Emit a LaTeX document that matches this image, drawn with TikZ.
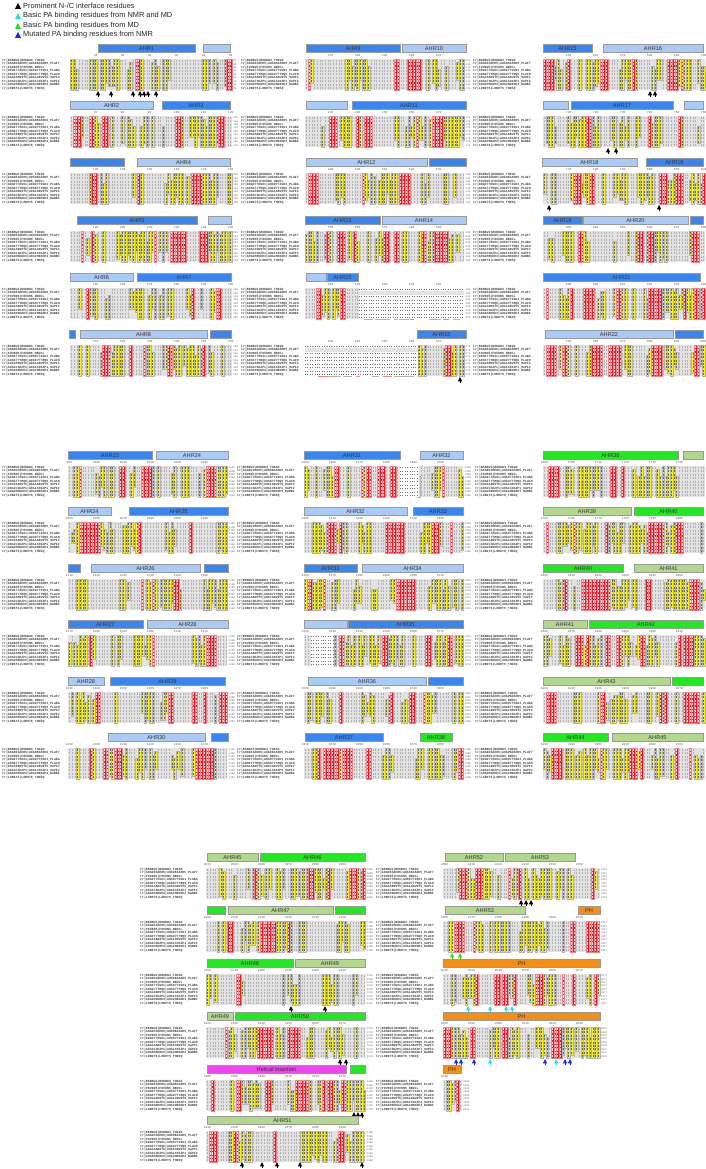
\documentclass[tikz,border=0pt]{standalone}
\usepackage{fontspec}
\setmainfont{Liberation Sans}
\newfontfamily\seqfont{Liberation Mono}
\definecolor{dkblue}{RGB}{58,134,240}
\definecolor{ltblue}{RGB}{170,202,248}
\definecolor{grn}{RGB}{34,232,34}
\definecolor{ltgrn}{RGB}{178,216,142}
\definecolor{orng}{RGB}{246,142,20}
\definecolor{mgnt}{RGB}{236,70,236}
\definecolor{resred}{RGB}{228,30,40}
\definecolor{resyel}{RGB}{250,244,10}
\definecolor{resbg}{RGB}{226,226,226}
\definecolor{trcyan}{RGB}{40,222,244}
\definecolor{trgreen}{RGB}{40,222,40}
\definecolor{trblue}{RGB}{28,40,240}
\newcommand\alncw{2.7}
\newcommand\alnrh{3.45}
\tikzset{
  barbox/.style={draw=black!40,line width=0.4pt},
  barlabel/.style={font=\fontsize{5.6}{6}\selectfont,text=black!80,inner sep=0pt},
  seqname/.style={font=\seqfont\bfseries\fontsize{3.2}{3.4}\selectfont,text=black!75,anchor=west,inner sep=0pt},
  rulenum/.style={font=\seqfont\fontsize{3}{3.2}\selectfont,text=black!65,inner sep=0pt},
  endnum/.style={font=\seqfont\fontsize{2.6}{2.8}\selectfont,text=black!60,anchor=west,inner sep=0pt},
  legtext/.style={font=\fontsize{7.4}{8.8}\selectfont,anchor=west,inner sep=0pt,text=black!85},
}
% helix bar: x1, x2, top, colour, label
\newcommand\helixbar[5]{%
  \draw[barbox,fill=#4] ({#1},{#3}) rectangle ({#2},{#3+8});
  \node[barlabel] at ({(#1+#2)/2},{#3+4.2}) {#5};}
% residue marker: x, top, colour
\newcommand\restri[3]{%
  \fill[#3] ({#1-2.2},{#2+4.4}) -- ({#1+2.2},{#2+4.4}) -- ({#1},{#2}) -- cycle;
  \fill[#3] ({#1-0.5},{#2+4}) rectangle ({#1+0.5},{#2+6.2});}
\newcommand\legtri[2]{%
  \fill[#2] (15,{#1+3}) -- (21,{#1+3}) -- (18,{#1-3.2}) -- cycle;}
% alignment block: x, top, ncols, seed
\newcommand\alnblock[4]{%
  \pgfmathsetseed{#4}%
  \fill[resbg] ({#1},{#2}) rectangle ({#1+#3*\alncw},{#2+9*\alnrh});
  \gdef\alnstate{0}%
  \foreach \i in {1,...,#3}{%
    \pgfmathtruncatemacro\alns{(rnd<0.45) ? \alnstate : ((rnd<0.15) ? 2 : ((rnd<0.5) ? 1 : 0))}%
    \global\let\alnstate\alns
    \pgfmathsetmacro\cx{#1+(\i-1)*\alncw}%
    \ifnum\alns=2
      \fill[resred,draw=resred!55!white,line width=0.25pt] (\cx,{#2}) rectangle ({\cx+\alncw},{#2+9*\alnrh});
      \draw[white!85!red,line width=0.8pt,dash pattern=on 2.1pt off 1.35pt,dash phase=-0.7pt] ({\cx+\alncw/2},{#2}) -- ({\cx+\alncw/2},{#2+9*\alnrh});
    \fi
    \ifnum\alns=1
      \pgfmathtruncatemacro\ya{(rnd<0.7) ? 0 : 1+int(rnd*3)}%
      \pgfmathtruncatemacro\yb{(rnd<0.7) ? 0 : 1+int(rnd*3)}%
      \fill[resyel,draw=black!30,line width=0.2pt] (\cx,{#2+\ya*\alnrh}) rectangle ({\cx+\alncw},{#2+(9-\yb)*\alnrh});
      \draw[black!60,line width=0.55pt,dash pattern=on 2.0pt off 1.45pt,dash phase=-0.7pt] ({\cx+\alncw/2},{#2+\ya*\alnrh}) -- ({\cx+\alncw/2},{#2+(9-\yb)*\alnrh});
    \fi
    \ifnum\alns=0
      \draw[black!30,line width=0.5pt,dash pattern=on 2.0pt off 1.45pt,dash phase=-0.7pt] ({\cx+\alncw/2},{#2}) -- ({\cx+\alncw/2},{#2+9*\alnrh});
    \fi
  }%
}
% ruler: blockx, top, ncols, start
\newcommand\ruler[4]{%
  \pgfmathtruncatemacro\rfirst{ceil(#4/10)*10}%
  \foreach \k in {0,...,6}{%
    \pgfmathtruncatemacro\rn{\rfirst+10*\k}%
    \pgfmathtruncatemacro\rc{\rn-#4}%
    \ifnum\rc<#3 \node[rulenum] at ({#1+(\rc+0.5)*\alncw},{#2+11.6}) {\rn};\fi
  }}
\newcommand\seqnames[2]{%
  \foreach \nm [count=\k from 0] in {tr|B6KBW3|B6KBW3\_TOXGO,tr|A0A0K3AEH5|A0A0K3AEH5\_PLAF7,tr|F0V8N5|F0V8N5\_NEOCL,tr|A0A077XG61|A0A077XG61\_PLABA,tr|A0A077TRQ6|A0A077TRQ6\_PLACH,tr|A0A1A8W9Y5|A0A1A8W9Y5\_9APIC,tr|A0A1C3KZP1|A0A1C3KZP1\_9APIC,tr|A0A2H6KDE3|A0A2H6KDE3\_BABBI,tr|L0B0T6|L0B0T6\_THEEQ}{%
    \node[seqname] at ({#1},{#2+15+(\k+0.5)*\alnrh}) {\nm};}}
\newcommand\seqends[3]{%
  \foreach \k in {0,...,8}{\node[endnum] at ({#1},{#2+15+(\k+0.5)*\alnrh}) {#3};}}
% panel with end numbers: namesx, blockx, top, ncols, start, seed
\newcommand\panel[6]{%
  \seqnames{#1}{#3}
  \alnblock{#2}{#3+15}{#4}{#6}
  \ruler{#2}{#3}{#4}{#5}
  \pgfmathtruncatemacro\endn{#5+#4-1}%
  \seqends{#2+#4*\alncw+1.2}{#3}{\endn}}
% panel at the right edge (no end numbers)
\newcommand\panelr[6]{%
  \seqnames{#1}{#3}
  \alnblock{#2}{#3+15}{#4}{#6}
  \ruler{#2}{#3}{#4}{#5}}
% gap region: x1, x2, top, insert row (9 = none)
\newcommand\gapregion[4]{%
  \fill[white] ({#1},{#3+15}) rectangle ({#2},{#3+15+9*\alnrh});
  \foreach \k in {0,...,8}{\draw[black!55,line width=0.5pt,dash pattern=on 0.5pt off 1.9pt] ({#1},{#3+15+(\k+0.5)*\alnrh}) -- ({#2},{#3+15+(\k+0.5)*\alnrh});}
  \ifnum#4<9 \fill[resbg] ({#1},{#3+15+#4*\alnrh}) rectangle ({#2},{#3+15+(#4+1)*\alnrh});\fi}
\begin{document}
\begin{tikzpicture}[x=1pt,y=-1pt]
\fill[white] (0,0) rectangle (706,1169);
\useasboundingbox (0,0) rectangle (706,1169);
% legend
\legtri{6}{black}\node[legtext] at (23,6) {Prominent N-/C interface residues};
\legtri{16}{trcyan}\node[legtext] at (23,16) {Basic PA binding residues from NMR and MD};
\legtri{26}{trgreen}\node[legtext] at (23,26) {Basic PA binding residues from MD};
\legtri{35}{trblue}\node[legtext] at (23,35) {Mutated PA binding residues from NMR};
% ===== section 1 =====
% column 1
\panel{2}{70}{44}{60}{1}{11}
\helixbar{98}{195}{44}{dkblue}{AHR1}\helixbar{203}{230}{44}{ltblue}{}
\foreach \xx in {98,111,133,140,144,148,156}{\restri{\xx}{91}{black}}
\panel{2}{70}{101}{60}{61}{12}
\helixbar{70}{153}{101}{ltblue}{AHR2}\helixbar{162}{230}{101}{dkblue}{AHR3}
\panel{2}{70}{158}{60}{121}{13}
\helixbar{70}{124}{158}{dkblue}{}\helixbar{137}{230}{158}{ltblue}{AHR4}
\panel{2}{70}{216}{60}{181}{14}
\helixbar{77}{197}{216}{dkblue}{AHR5}\helixbar{208}{231}{216}{ltblue}{}
\panel{2}{70}{273}{60}{241}{15}
\helixbar{70}{133}{273}{ltblue}{AHR6}\helixbar{137}{231}{273}{dkblue}{AHR7}
\panel{2}{70}{330}{60}{301}{16}
\helixbar{69}{75}{330}{dkblue}{}\helixbar{80}{207}{330}{ltblue}{AHR8}\helixbar{210}{231}{330}{dkblue}{}
% column 2
\panel{241}{305}{44}{59}{361}{21}
\helixbar{306}{400}{44}{dkblue}{AHR9}\helixbar{402}{466}{44}{ltblue}{AHR10}
\panel{241}{305}{101}{59}{421}{22}
\helixbar{306}{347}{101}{ltblue}{}\helixbar{352}{466}{101}{dkblue}{AHR11}
\panel{241}{305}{158}{59}{481}{23}
\helixbar{306}{427}{158}{ltblue}{AHR12}\helixbar{429}{466}{158}{dkblue}{}
\panel{241}{305}{216}{59}{541}{24}
\helixbar{305}{380}{216}{dkblue}{AHR13}\helixbar{382}{466}{216}{ltblue}{AHR14}
\panel{241}{305}{273}{59}{601}{25}
\gapregion{359}{464.3}{273}{1}
\helixbar{306}{326}{273}{ltblue}{}\helixbar{327}{358}{273}{dkblue}{AHR15}
\panel{241}{305}{330}{59}{621}{26}
\gapregion{305}{418}{330}{1}
\helixbar{417}{466}{330}{dkblue}{AHR15}
\restri{460}{377}{black}
% column 3
\panelr{473}{543}{44}{60}{641}{31}
\helixbar{543}{592}{44}{dkblue}{AHR15}\helixbar{603}{703}{44}{ltblue}{AHR16}
\restri{650}{91}{black}\restri{655}{91}{black}
\panelr{473}{543}{101}{60}{701}{32}
\helixbar{543}{568}{101}{ltblue}{}\helixbar{571}{673}{101}{dkblue}{AHR17}\helixbar{684}{703}{101}{ltblue}{}
\restri{608}{148}{black}\restri{616}{148}{black}
\panelr{473}{543}{158}{60}{761}{33}
\helixbar{542}{637}{158}{ltblue}{AHR18}\helixbar{646}{703}{158}{dkblue}{AHR19}
\restri{549}{205}{black}\restri{659}{205}{black}
\panelr{473}{543}{216}{60}{821}{34}
\helixbar{543}{582}{216}{dkblue}{AHR19}\helixbar{583}{688}{216}{ltblue}{AHR20}\helixbar{690}{703}{216}{dkblue}{}
\panelr{473}{543}{273}{60}{881}{35}
\helixbar{543}{700}{273}{dkblue}{AHR21}
\panelr{473}{543}{330}{60}{941}{36}
\helixbar{545}{673}{330}{ltblue}{AHR22}\helixbar{675}{703}{330}{dkblue}{}
% ===== section 2 =====
\panel{2}{68}{451}{59}{990}{41}
\helixbar{68}{152}{451}{dkblue}{AHR23}\helixbar{156}{228}{451}{ltblue}{AHR24}
\panel{2}{68}{507}{59}{1050}{42}
\helixbar{68}{111}{507}{ltblue}{AHR24}\helixbar{129}{228}{507}{dkblue}{AHR25}
\panel{2}{68}{564}{59}{1110}{43}
\helixbar{68}{80}{564}{dkblue}{}\helixbar{91}{200}{564}{ltblue}{AHR26}\helixbar{204}{228}{564}{dkblue}{}
\panel{2}{68}{620}{59}{1170}{44}
\helixbar{68}{143}{620}{dkblue}{AHR27}\helixbar{147}{228}{620}{ltblue}{AHR28}
\panel{2}{68}{677}{59}{1230}{45}
\helixbar{68}{104}{677}{ltblue}{AHR28}\helixbar{110}{225}{677}{dkblue}{AHR29}
\panel{2}{68}{733}{59}{1290}{46}
\helixbar{108}{205}{733}{ltblue}{AHR30}\helixbar{211}{228}{733}{dkblue}{}
\panel{237}{304}{451}{59}{1350}{51}
\gapregion{400}{419}{451}{9}
\helixbar{304}{400}{451}{dkblue}{AHR31}\helixbar{420}{463}{451}{ltblue}{AHR32}
\panel{237}{304}{507}{59}{1400}{52}
\helixbar{304}{407}{507}{ltblue}{AHR32}\helixbar{413}{463}{507}{dkblue}{AHR33}
\panel{237}{304}{564}{59}{1460}{53}
\helixbar{304}{357}{564}{dkblue}{AHR33}\helixbar{362}{463}{564}{ltblue}{AHR34}
\panel{237}{304}{620}{59}{1520}{54}
\gapregion{311}{333}{620}{9}
\helixbar{304}{347}{620}{ltblue}{}\helixbar{348}{463}{620}{dkblue}{AHR35}
\panel{237}{304}{677}{59}{1570}{55}
\helixbar{308}{426}{677}{ltblue}{AHR36}\helixbar{428}{463}{677}{dkblue}{}
\panel{237}{304}{733}{59}{1630}{56}
\helixbar{305}{383}{733}{dkblue}{AHR37}\helixbar{420}{452}{733}{grn}{AHR38}
\panelr{475}{543}{451}{60}{1690}{61}
\helixbar{543}{678}{451}{grn}{AHR38}\helixbar{683}{703}{451}{ltgrn}{}
\panelr{475}{543}{507}{60}{1750}{62}
\helixbar{543}{631}{507}{ltgrn}{AHR39}\helixbar{634}{703}{507}{grn}{AHR40}
\panelr{475}{543}{564}{60}{1800}{63}
\helixbar{543}{623}{564}{grn}{AHR40}\helixbar{634}{703}{564}{ltgrn}{AHR41}
\panelr{475}{543}{620}{60}{1860}{64}
\helixbar{543}{587}{620}{ltgrn}{AHR41}\helixbar{589}{703}{620}{grn}{AHR42}
\panelr{475}{543}{677}{60}{1920}{65}
\helixbar{543}{670}{677}{ltgrn}{AHR43}\helixbar{672}{703}{677}{grn}{}
\panelr{475}{543}{733}{60}{1980}{66}
\helixbar{543}{608}{733}{grn}{AHR44}\helixbar{612}{703}{733}{ltgrn}{AHR45}
% ===== section 3 =====
\panel{140}{206}{853}{59}{2040}{71}
\helixbar{207}{258}{853}{ltgrn}{AHR45}\helixbar{260}{365}{853}{grn}{AHR46}
\panel{140}{206}{906}{59}{2100}{72}
\helixbar{207}{225}{906}{grn}{}\helixbar{228}{333}{906}{ltgrn}{AHR47}\helixbar{335}{365}{906}{grn}{}
\panel{140}{206}{959}{59}{2160}{73}
\helixbar{207}{293}{959}{grn}{AHR48}\helixbar{295}{365}{959}{ltgrn}{AHR49}
\restri{291}{1006}{black}\restri{325}{1006}{black}
\panel{140}{206}{1012}{59}{2220}{74}
\helixbar{207}{233}{1012}{ltgrn}{AHR49}\helixbar{235}{365}{1012}{grn}{AHR50}
\restri{340}{1059}{black}\restri{346}{1059}{black}
\panel{140}{206}{1065}{59}{2280}{75}
\helixbar{207}{346}{1065}{mgnt}{Helical insertion}\helixbar{350}{365}{1065}{grn}{}
\restri{354}{1112}{black}\restri{358}{1112}{black}\restri{362}{1112}{black}
\panel{140}{206}{1116}{59}{2340}{76}
\helixbar{207}{358}{1116}{ltgrn}{AHR51}
\foreach \xx in {242,262,277,300,362}{\restri{\xx}{1162}{black}}
\panel{376}{443}{853}{58}{2400}{81}
\helixbar{445}{503}{853}{ltgrn}{AHR52}\helixbar{505}{575}{853}{ltgrn}{AHR53}
\restri{521}{900}{black}\restri{526}{900}{black}\restri{531}{900}{black}
\panel{376}{443}{906}{58}{2460}{82}
\helixbar{445}{525}{906}{ltgrn}{AHR53}\helixbar{578}{600}{906}{orng}{PH}
\restri{452}{953}{trgreen}\restri{460}{953}{trgreen}
\panel{376}{443}{959}{58}{2520}{83}
\helixbar{443}{600}{959}{orng}{PH}
\foreach \xx in {468,490,506,512}{\restri{\xx}{1006}{trcyan}}
\panel{376}{443}{1012}{58}{2580}{84}
\helixbar{443}{600}{1012}{orng}{PH}
\foreach \xx in {456,461,474,545,565,570}{\restri{\xx}{1059}{trblue}}
\restri{490}{1059}{trcyan}\restri{556}{1059}{trcyan}
\panel{376}{443}{1065}{7}{2640}{85}
\helixbar{443}{461}{1065}{orng}{PH}
\end{tikzpicture}
\end{document}
